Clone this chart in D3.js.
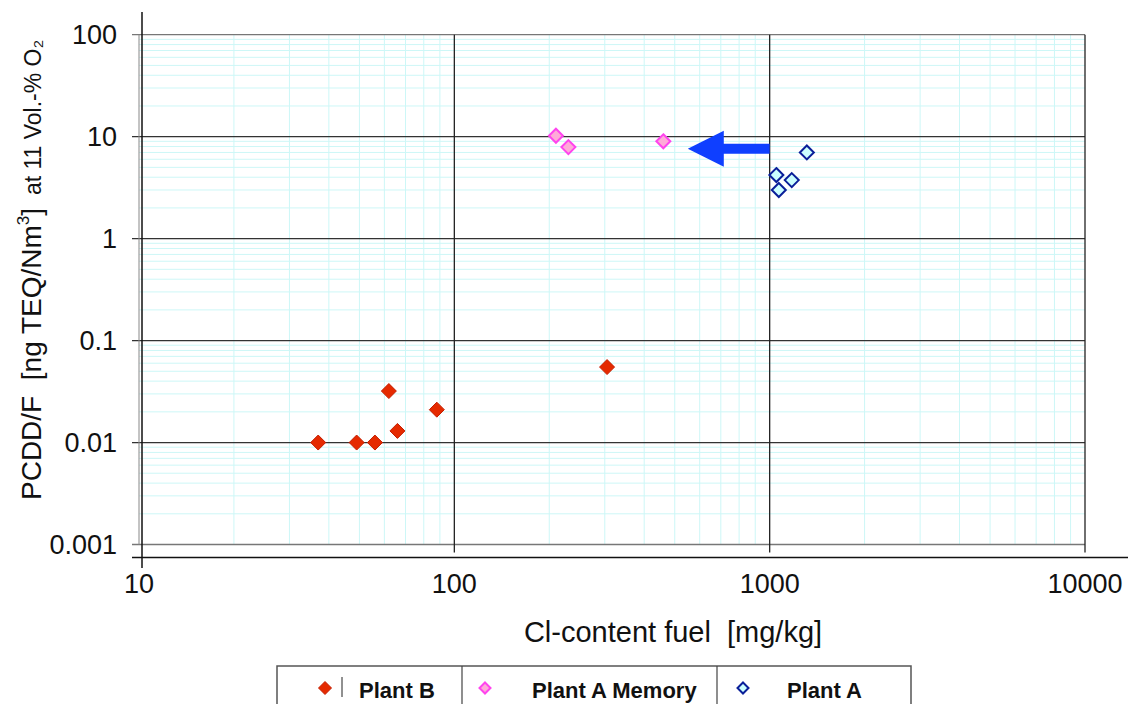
<!DOCTYPE html>
<html>
<head>
<meta charset="utf-8">
<script src="https://cdn.jsdelivr.net/npm/d3@7"></script>
<style>
  body { margin: 0; background: #fff; }
  svg { display: block; font-family: "Liberation Sans", Arial, sans-serif; }
  text { white-space: pre; }
</style>
</head>
<body>
<div id="plot"></div>
<script>
// values
const plantB_cl   = [37, 49, 56, 62, 66, 88, 305];
const plantB_pcdd = [0.01, 0.01, 0.01, 0.032, 0.013, 0.021, 0.055];

const memory_cl   = [210, 230, 460];
const memory_pcdd = [10.2, 7.9, 9.0];

const plantA_cl   = [1312, 1050, 1175, 1069];
const plantA_pcdd = [7.0, 4.2, 3.75, 3.0];

// shift from Plant A to Plant A Memory
const arrowFrom = [1000, 7.6];
const arrowTo = [550, 7.6];

const xTicks = [10, 100, 1000, 10000];
const xTickLabels = ['10', '100', '1000', '10000'];
const yTicks = [0.001, 0.01, 0.1, 1, 10, 100];
const yTickLabels = ['0.001', '0.01', '0.1', '1', '10', '100'];

const legendNames = ['Plant B', 'Plant A Memory', 'Plant A'];

const width = 1131;
const height = 704;

const svg = d3.select('#plot')
    .append('svg')
    .attr('width', width)
    .attr('height', height);

const x = d3.scaleLog().domain([10, 10000]).range([139, 1085]);
const y = d3.scaleLog().domain([0.001, 100]).range([544.5, 34.7]);

const styles = {
    'Plant B': {fill: '#e52a00', stroke: '#c41e00', r: 7.5, sw: 1},
    'Plant A Memory': {fill: '#ffaad8', stroke: '#ff44ee', r: 7, sw: 2},
    'Plant A': {fill: '#ccffff', stroke: '#0a1f99', r: 7, sw: 2}
};

const grid = svg.append('g');

// minor grid
const minorX = x.ticks().filter(v => !xTicks.includes(v));
const minorY = y.ticks().filter(v => !yTicks.some(t => Math.abs(t - v) / t < 1e-6));

grid.selectAll('line.mx').data(minorX).enter().append('line')
    .attr('x1', d => x(d)).attr('x2', d => x(d))
    .attr('y1', y(100)).attr('y2', y(0.001))
    .attr('stroke', '#cdf7f7').attr('stroke-width', 1);

grid.selectAll('line.my').data(minorY).enter().append('line')
    .attr('x1', x(10)).attr('x2', x(10000))
    .attr('y1', d => y(d)).attr('y2', d => y(d))
    .attr('stroke', '#cdf7f7').attr('stroke-width', 1);

// major horizontal grid (starts at the tick)
grid.selectAll('line.My').data(yTicks).enter().append('line')
    .attr('x1', x(10) - 7).attr('x2', x(10000))
    .attr('y1', d => y(d)).attr('y2', d => y(d))
    .attr('stroke', d => (d === 100 || d === 0.001) ? '#777' : '#333')
    .attr('stroke-width', 1.3);

// plot border left
grid.append('line')
    .attr('x1', x(10)).attr('x2', x(10))
    .attr('y1', y(100)).attr('y2', y(0.001))
    .attr('stroke', '#888').attr('stroke-width', 1);

// major vertical grid
grid.selectAll('line.Mx').data(xTicks.slice(1)).enter().append('line')
    .attr('x1', d => x(d)).attr('x2', d => x(d))
    .attr('y1', y(100)).attr('y2', y(0.001) + 8)
    .attr('stroke', '#222').attr('stroke-width', 1.3);

// axis lines, offset like the original
svg.append('line')
    .attr('x1', x(10) + 3).attr('x2', x(10) + 3)
    .attr('y1', 12).attr('y2', 568)
    .attr('stroke', '#111').attr('stroke-width', 1.5);
svg.append('line')
    .attr('x1', x(10) - 7).attr('x2', 1128)
    .attr('y1', 557.5).attr('y2', 557.5)
    .attr('stroke', '#111').attr('stroke-width', 1.5);

// tick labels
svg.selectAll('text.yt').data(yTicks).enter().append('text')
    .attr('x', 117)
    .attr('y', d => y(d) + 9.5)
    .attr('text-anchor', 'end')
    .attr('font-size', 27)
    .attr('fill', '#111')
    .text((d, i) => yTickLabels[i]);

svg.selectAll('text.xt').data(xTicks).enter().append('text')
    .attr('x', d => x(d))
    .attr('y', 593)
    .attr('text-anchor', 'middle')
    .attr('font-size', 27)
    .attr('fill', '#111')
    .text((d, i) => xTickLabels[i]);

// axis titles
svg.append('text')
    .attr('x', 673)
    .attr('y', 642)
    .attr('text-anchor', 'middle')
    .attr('font-size', 29)
    .attr('fill', '#111')
    .text('Cl-content fuel  [mg/kg]');

const yTitle = svg.append('text')
    .attr('transform', 'translate(41,500) rotate(-90)')
    .attr('font-size', 28)
    .attr('fill', '#111');
yTitle.append('tspan').text('PCDD/F  [ng TEQ/Nm');
yTitle.append('tspan').attr('font-size', 17).attr('dy', -12).text('3');
yTitle.append('tspan').attr('dy', 12).text(']');
yTitle.append('tspan').attr('font-size', 23).text('  at 11 Vol.-% O₂');

// markers
const diamond = r => `M0,${-r}L${r},0L0,${r}L${-r},0Z`;

function drawSeries(name, xs, ys) {
    const s = styles[name];
    svg.append('g').selectAll('path')
        .data(xs.map((v, i) => ({cl: v, p: ys[i]})))
        .enter().append('path')
        .attr('transform', d => `translate(${x(d.cl)},${y(d.p)})`)
        .attr('d', diamond(s.r))
        .attr('fill', s.fill)
        .attr('stroke', s.stroke)
        .attr('stroke-width', s.sw)
        .attr('stroke-linejoin', 'miter');
}

drawSeries('Plant B', plantB_cl, plantB_pcdd);
drawSeries('Plant A Memory', memory_cl, memory_pcdd);
drawSeries('Plant A', plantA_cl, plantA_pcdd);

// arrow
const ax0 = x(arrowFrom[0]), ax1 = x(arrowTo[0]), ay = y(arrowTo[1]);
const headLen = 36, headHalf = 18, shaftHalf = 5;
svg.append('path')
    .attr('d', `M${ax0},${ay - shaftHalf}L${ax1 + headLen},${ay - shaftHalf}L${ax1 + headLen},${ay - headHalf}` +
        `L${ax1},${ay}L${ax1 + headLen},${ay + headHalf}L${ax1 + headLen},${ay + shaftHalf}L${ax0},${ay + shaftHalf}Z`)
    .attr('fill', '#0f3fff');

// legend
const legend = svg.append('g');
legend.append('path')
    .attr('d', 'M277,704V666H911V704')
    .attr('fill', 'none')
    .attr('stroke', '#555')
    .attr('stroke-width', 1.5);
[462, 717].forEach(px => legend.append('line')
    .attr('x1', px).attr('x2', px).attr('y1', 666).attr('y2', 704)
    .attr('stroke', '#444').attr('stroke-width', 1.2));

const legendMarkX = [325, 485, 743];
const legendTextX = [359, 532, 787];
legendNames.forEach((name, i) => {
    const s = styles[name];
    legend.append('path')
        .attr('transform', `translate(${legendMarkX[i]},688)`)
        .attr('d', diamond(i === 0 ? 6.5 : 5.5))
        .attr('fill', s.fill)
        .attr('stroke', s.stroke)
        .attr('stroke-width', s.sw);
    legend.append('text')
        .attr('x', legendTextX[i])
        .attr('y', 698)
        .attr('font-size', 22)
        .attr('font-weight', 'bold')
        .attr('fill', '#111')
        .text(name);
});
legend.append('line')
    .attr('x1', 342).attr('x2', 342).attr('y1', 677).attr('y2', 697)
    .attr('stroke', '#222').attr('stroke-width', 1);
</script>
</body>
</html>
